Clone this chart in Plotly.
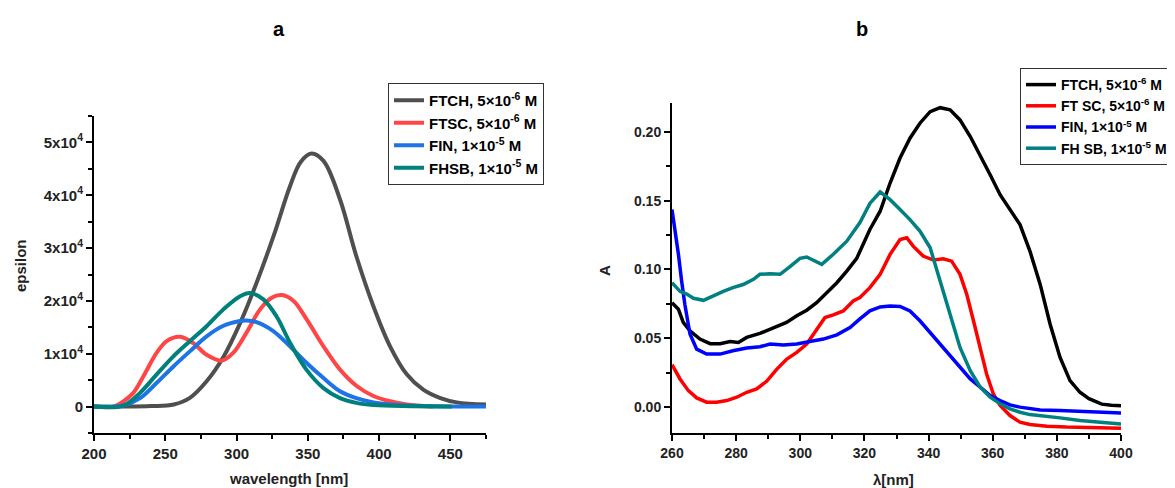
import plotly.graph_objects as go

# ---------------- Panel a data (epsilon vs wavelength) ----------------
wl_ftch_a = [200, 220, 240, 256, 267, 279, 291, 302.5, 314, 326, 337.5, 345, 352.5, 361, 372.6, 384, 396, 407.7, 419.4, 431, 443, 454.5, 475]
eps_ftch_a = [0, 0, 100, 400, 1600, 4800, 9500, 15800, 23400, 32300, 41700, 46300, 47900, 46500, 39200, 28500, 19000, 11400, 6100, 3200, 1600, 800, 400]

wl_ftsc_a = [200, 213.6, 220.6, 227.6, 234.6, 244, 251, 260.4, 269.7, 279, 289.6, 297.8, 307, 316.5, 324.7, 331.7, 340, 349.2, 361, 372.6, 384.3, 396, 407.7, 419.4, 438]
eps_ftsc_a = [0, 0, 1000, 2600, 5700, 10200, 12400, 13200, 12000, 9800, 8700, 10200, 14000, 18400, 20600, 21100, 20000, 16500, 11400, 7000, 3900, 2000, 1000, 400, 0]

wl_fin_a = [200, 220.6, 232.3, 244, 255.7, 267.4, 279, 290.8, 302.5, 307, 314, 325.8, 337.5, 349, 361, 372.6, 384, 396, 407.7, 419.4, 440, 475]
eps_fin_a = [0, 200, 1600, 4500, 7600, 10500, 13300, 15300, 16200, 16300, 16000, 14300, 11400, 8300, 5400, 2900, 1600, 800, 400, 200, 50, 0]

wl_fhsb_a = [200, 220.6, 232.3, 244, 255.7, 267.4, 279, 290.8, 302.5, 309.5, 318.8, 328, 337.5, 349, 361, 372.6, 384, 396, 451]
eps_fhsb_a = [0, 200, 2600, 6100, 9500, 12400, 15200, 18400, 20900, 21500, 20300, 17100, 12100, 7000, 3500, 1600, 700, 300, 0]

ytick_vals_a = [0, 10000, 20000, 30000, 40000, 50000]
ytick_text_a = ["0", "1x10<sup>4</sup>", "2x10<sup>4</sup>", "3x10<sup>4</sup>", "4x10<sup>4</sup>", "5x10<sup>4</sup>"]

# ---------------- Panel b data (absorbance vs wavelength) ----------------
wl_ftch_b = [260, 262, 263.5, 265.6, 268.7, 271.9, 275, 278.1, 280.7, 283.3, 287.4, 291.6, 295.7, 298.9, 302, 305.1, 308.2, 311.4, 314.5, 317.6, 321.7, 324.9, 328, 331.1, 334.2, 337.3, 340.5, 343.6, 346.7, 349.8, 353, 356.1, 359.2, 362.3, 365.4, 368.5, 371.6, 374.8, 377.9, 381, 384.1, 387.2, 390, 394, 397, 400]
a_ftch_b = [0.0758, 0.071, 0.0614, 0.0553, 0.0493, 0.046, 0.046, 0.0476, 0.0469, 0.0505, 0.0534, 0.0577, 0.0614, 0.0662, 0.0703, 0.0758, 0.083, 0.0903, 0.0988, 0.108, 0.129, 0.1423, 0.1628, 0.181, 0.1954, 0.2063, 0.2147, 0.2176, 0.216, 0.2087, 0.1966, 0.1833, 0.1688, 0.1543, 0.1435, 0.1326, 0.1133, 0.0891, 0.0601, 0.036, 0.0191, 0.0106, 0.006, 0.002, 0.0012, 0.0008]

wl_ftsc_b = [260, 262.5, 265.1, 267.7, 270.8, 273.9, 277.1, 280.2, 283.3, 286.4, 289.5, 292.7, 295.8, 298.9, 302, 305.1, 307.7, 310.3, 313.4, 316.5, 318.6, 321.7, 324.9, 328, 331.1, 333.2, 335.2, 338.3, 341.5, 344.6, 347.2, 349.8, 351.9, 354, 356.1, 358.1, 360.2, 362.3, 365.4, 368.5, 371.6, 376.9, 383, 390, 400]
a_ftsc_b = [0.0307, 0.0203, 0.0118, 0.0065, 0.0034, 0.0034, 0.0046, 0.007, 0.0106, 0.013, 0.0186, 0.0275, 0.0348, 0.0396, 0.0457, 0.0565, 0.065, 0.0669, 0.0698, 0.077, 0.0795, 0.0867, 0.0964, 0.1109, 0.1217, 0.123, 0.1169, 0.1097, 0.1068, 0.1077, 0.106, 0.0964, 0.0819, 0.0626, 0.0432, 0.0239, 0.0094, 0.001, -0.0063, -0.0111, -0.0128, -0.014, -0.0147, -0.015, -0.0155]

wl_fin_b = [260, 260.9, 262, 263, 264, 265.6, 267.7, 270.8, 275, 279, 283.3, 287.4, 290.6, 294.7, 298.9, 303, 307.2, 311.4, 315.5, 318.6, 321.7, 324.9, 328, 331.1, 334.2, 337.3, 340.5, 343.6, 346.7, 349.8, 353, 356.1, 359.2, 362.3, 365.4, 368.5, 371.6, 374.8, 381, 387.2, 400]
a_fin_b = [0.1435, 0.130, 0.111, 0.0915, 0.0746, 0.053, 0.042, 0.0384, 0.0384, 0.0408, 0.0428, 0.0437, 0.0457, 0.045, 0.0457, 0.0476, 0.0493, 0.0524, 0.0577, 0.064, 0.0698, 0.0727, 0.0734, 0.073, 0.0698, 0.0626, 0.0541, 0.0457, 0.0372, 0.0287, 0.0203, 0.0143, 0.0082, 0.0046, 0.0014, -0.0002, -0.0014, -0.0022, -0.0027, -0.0031, -0.0045]

wl_fhsb_b = [260, 262.5, 264.6, 266.7, 269.8, 272.9, 276, 279, 282.2, 285.4, 287.4, 290.6, 293.7, 296.8, 299.9, 302, 304.6, 306.7, 310.3, 314.5, 318.6, 321.7, 324.9, 328, 331.1, 334.2, 337.3, 340.5, 343.6, 346.7, 349.8, 353, 356.1, 359.2, 362.3, 365.4, 368.5, 371.6, 374.8, 377.9, 381, 387.2, 400]
a_fhsb_b = [0.0903, 0.084, 0.082, 0.079, 0.0775, 0.081, 0.084, 0.0867, 0.089, 0.0928, 0.0964, 0.0969, 0.0964, 0.102, 0.108, 0.109, 0.106, 0.1036, 0.111, 0.1205, 0.134, 0.148, 0.1563, 0.1507, 0.1435, 0.1362, 0.1278, 0.1157, 0.0915, 0.0674, 0.0432, 0.0263, 0.0143, 0.007, 0.0022, -0.0014, -0.0039, -0.0056, -0.0063, -0.0075, -0.008, -0.0099, -0.0125]

names = ["FTCH, 5×10<sup>-6</sup> M", "FTSC, 5×10<sup>-6</sup> M", "FIN, 1×10<sup>-5</sup> M", "FHSB, 1×10<sup>-5</sup> M"]
names_b = ["FTCH, 5×10<sup>-6</sup> M", "FT SC, 5×10<sup>-6</sup> M", "FIN, 1×10<sup>-5</sup> M", "FH SB, 1×10<sup>-5</sup> M"]
colors_a = ["#4f4f4f", "#ff4646", "#1e73e6", "#00807a"]
colors_b = ["#000000", "#ff0000", "#0000ff", "#008080"]

FONT = "Liberation Sans, Arial, sans-serif"

fig = go.Figure()

series_a = [(wl_ftch_a, eps_ftch_a), (wl_ftsc_a, eps_ftsc_a), (wl_fin_a, eps_fin_a), (wl_fhsb_a, eps_fhsb_a)]
for (xs, ys), nm, col in zip(series_a, names, colors_a):
    fig.add_trace(go.Scatter(x=xs, y=ys, mode="lines", name=nm,
                             line=dict(color=col, width=4, shape="spline", smoothing=1.0),
                             xaxis="x", yaxis="y", legend="legend"))

series_b = [(wl_ftch_b, a_ftch_b), (wl_ftsc_b, a_ftsc_b), (wl_fin_b, a_fin_b), (wl_fhsb_b, a_fhsb_b)]
for (xs, ys), nm, col in zip(series_b, names_b, colors_b):
    fig.add_trace(go.Scatter(x=xs, y=ys, mode="lines", name=nm,
                             line=dict(color=col, width=3.5),
                             xaxis="x2", yaxis="y2", legend="legend2"))

# The page body has an 8 px margin, so the figure sits at (8, 8) in the window.
OFF = 8
W, H = 1175 - OFF, 488 - OFF
def px_x(p):
    return (p - OFF) / W
def px_y(p):
    return 1 - (p - OFF) / H

axis_common = dict(showline=True, linecolor="black", linewidth=2, mirror=False,
                   ticks="outside", tickcolor="black", tickwidth=2, ticklen=6,
                   showgrid=False, zeroline=False,
                   tickfont=dict(family=FONT, size=15, color="#222", weight="bold"))
font_b = dict(family=FONT, size=14, color="#222", weight="bold")

fig.update_layout(
    width=W, height=H,
    margin=dict(l=0, r=0, t=0, b=0, autoexpand=False),
    paper_bgcolor="white", plot_bgcolor="white",
    xaxis=dict(domain=[px_x(94), px_x(486)], range=[200, 475], tickvals=[200, 250, 300, 350, 400, 450],
               minor=dict(dtick=25, tick0=200, ticks="outside", ticklen=4, tickcolor="black", tickwidth=2),
               anchor="y", **axis_common),
    yaxis=dict(domain=[px_y(433), px_y(116)], range=[-5000, 55000], tickvals=ytick_vals_a, ticktext=ytick_text_a,
               minor=dict(dtick=5000, tick0=0, ticks="outside", ticklen=4, tickcolor="black", tickwidth=2),
               anchor="x", **axis_common),
    xaxis2=dict(domain=[px_x(672), px_x(1121)], range=[260, 400], dtick=20, tick0=260,
                minor=dict(dtick=10, tick0=260, ticks="outside", ticklen=4, tickcolor="black", tickwidth=2),
                anchor="y2", **{**axis_common, "tickfont": font_b}),
    yaxis2=dict(domain=[px_y(433), px_y(103)], range=[-0.019, 0.221], dtick=0.05, tick0=0, tickformat=".2f",
                minor=dict(dtick=0.025, tick0=0, ticks="outside", ticklen=4, tickcolor="black", tickwidth=2),
                anchor="x2", **{**axis_common, "tickfont": font_b}),
    legend=dict(x=px_x(388), y=px_y(83), xanchor="left", yanchor="top",
                bgcolor="white", bordercolor="#333", borderwidth=1,
                font=dict(family=FONT, size=15, color="black", weight="bold"),
                tracegroupgap=0, itemwidth=30),
    legend2=dict(x=px_x(1020), y=px_y(68), xanchor="left", yanchor="top",
                 bgcolor="white", bordercolor="#333", borderwidth=1,
                 font=dict(family=FONT, size=14, color="black", weight="bold"),
                 tracegroupgap=0, itemwidth=30),
    showlegend=True,
)

ann_font = dict(family=FONT, size=15, color="#222", weight="bold")
fig.add_annotation(x=px_x(279), y=px_y(29), xref="paper", yref="paper", text="<b>a</b>", showarrow=False,
                   font=dict(family=FONT, size=20, color="black"), xanchor="center", yanchor="middle")
fig.add_annotation(x=px_x(862), y=px_y(29), xref="paper", yref="paper", text="<b>b</b>", showarrow=False,
                   font=dict(family=FONT, size=20, color="black"), xanchor="center", yanchor="middle")
fig.add_annotation(x=px_x(288), y=px_y(478), xref="paper", yref="paper", text="wavelength [nm]", showarrow=False,
                   font=ann_font, xanchor="center", yanchor="middle")
fig.add_annotation(x=px_x(20), y=px_y(266), xref="paper", yref="paper", text="epsilon", showarrow=False,
                   font=ann_font, textangle=-90, xanchor="center", yanchor="middle")
fig.add_annotation(x=px_x(893), y=px_y(479), xref="paper", yref="paper", text="λ[nm]", showarrow=False,
                   font=ann_font, xanchor="center", yanchor="middle")
fig.add_annotation(x=px_x(604), y=px_y(271), xref="paper", yref="paper", text="A", showarrow=False,
                   font=ann_font, textangle=-90, xanchor="center", yanchor="middle")

fig.write_html("out.html")
